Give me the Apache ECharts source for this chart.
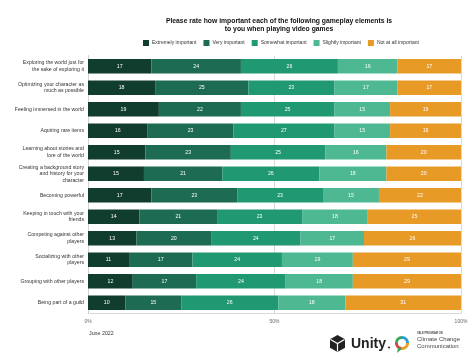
<!DOCTYPE html>
<html><head><meta charset="utf-8">
<script src="https://cdn.jsdelivr.net/npm/echarts@6/dist/echarts.min.js"></script>
<style>html,body{margin:0;padding:0;background:#fff}#c{width:474px;height:362px}</style>
</head><body><div id="c"></div>
<script>
const categories = [
  "Exploring the world just for\nthe sake of exploring it",
  "Optimizing your character as\nmuch as possible",
  "Feeling immersed in the world",
  "Aquiring rare items",
  "Learning about stories and\nlore of the world",
  "Creating a background story\nand history for your\ncharacter",
  "Becoming powerful",
  "Keeping in touch with your\nfriends",
  "Competing against other\nplayers",
  "Socializing with other\nplayers",
  "Grouping with other players",
  "Being part of a guild"
];
const seriesNames = ["Extremely important","Very important","Somewhat important","Slightly important","Not at all important"];
// shares in % (labels show rounded values)
const extremely = [17,18,19,16,15.4,15,17,13.8,13,11,12,10];
const very      = [24,25,22,23,22.9,21,23,20.8,20,17,17,15];
const somewhat  = [26,23,25,27,25.3,26,23,22.8,24,24,24,26];
const slightly  = [16,17,15,15,16.4,18,15,17.6,17,19,18,18];
const notAtAll  = [17,17,19,19,20,20,22,25,26,29,29,31];
const xTicks = ["0%","50%","100%"];
const colors = ["#113d2e","#1c6b52","#209872","#4db892","#e89a26"];
const values = [extremely, very, somewhat, slightly, notAtAll];

const chart = echarts.init(document.getElementById('c'));
const font = "Liberation Sans, Arial, sans-serif";
chart.setOption({
  animation:false,
  color: colors,
  title:{
    text:"Please rate how important each of the following gameplay elements is\nto you when playing video games",
    left:274, top:12, textAlign:'center',
    textStyle:{fontFamily:font,fontSize:6.8,fontWeight:'bold',color:'#111',lineHeight:8}
  },
  legend:{
    data: seriesNames, top:35, left:138,
    itemWidth:6, itemHeight:6, itemGap:7, icon:'rect',
    textStyle:{fontFamily:font,fontSize:5,color:'#333',padding:[0,0,0,-2]}
  },
  grid:{left:88, right:13, top:55.5, bottom:48.5, containLabel:false},
  xAxis:{
    type:'value', min:0, max:100, interval:50,
    axisLabel:{fontFamily:font,fontSize:5,color:'#666',margin:6,formatter:(v)=>xTicks[v/50]},
    splitLine:{show:true,lineStyle:{color:'#d0d0d0',width:0.8}},
    axisLine:{show:true,lineStyle:{color:'#d0d0d0',width:0.8}},
    axisTick:{show:false}
  },
  yAxis:{
    type:'category', data:categories, inverse:true,
    axisLabel:{fontFamily:font,fontSize:5.2,color:'#333',lineHeight:6.5,margin:4},
    axisLine:{show:true,lineStyle:{color:'#d0d0d0',width:0.8}},
    axisTick:{show:false}
  },
  series: values.map((v,i)=>({
    name: seriesNames[i], type:'bar', stack:'total', data:v,
    barWidth:'67%',
    label:{show:true,position:'inside',color:'#fff',fontFamily:font,fontSize:5.2,
      formatter:(p)=>String(Math.round(p.value))},
    emphasis:{disabled:true}
  })),
  graphic:[
    {type:'text',left:89,top:331,style:{text:'June 2022',font:'5.3px '+font,fill:'#333'}},
    // Unity icon (approximate)
    {type:'polygon',shape:{points:[[337.5,335],[345,339.3],[345,347.7],[337.5,352],[330,347.7],[330,339.3]]},style:{fill:'#222'}},
    {type:'polyline',shape:{points:[[330.5,339.6],[337.5,343.6],[344.5,339.6]]},style:{stroke:'#fff',lineWidth:1.2,fill:null}},
    {type:'line',shape:{x1:337.5,y1:343.6,x2:337.5,y2:351.5},style:{stroke:'#fff',lineWidth:1.2}},
    {type:'text',left:351,top:337.5,style:{text:'Unity',font:'bold 14px '+font,fill:'#222'}},
    {type:'circle',shape:{cx:389,cy:347.5,r:1},style:{fill:'#222'}},
    // Yale ring
    {type:'arc',shape:{cx:402,cy:343,r:5.6,startAngle:-Math.PI*0.5,endAngle:0},style:{stroke:'#2a9fd6',lineWidth:3,fill:null}},
    {type:'arc',shape:{cx:402,cy:343,r:5.6,startAngle:0,endAngle:Math.PI*0.55},style:{stroke:'#e8a02a',lineWidth:3,fill:null}},
    {type:'arc',shape:{cx:402,cy:343,r:5.6,startAngle:Math.PI*0.55,endAngle:Math.PI*1.0},style:{stroke:'#d9453a',lineWidth:3,fill:null}},
    {type:'arc',shape:{cx:402,cy:343,r:5.6,startAngle:Math.PI*1.0,endAngle:Math.PI*1.5},style:{stroke:'#3aa655',lineWidth:3,fill:null}},
    {type:'polygon',shape:{points:[[398,347.5],[397,353],[402,348.8]]},style:{fill:'#3aa655'}},
    {type:'text',left:417,top:331.5,style:{text:'YALE PROGRAM ON',font:'bold 2.6px '+font,fill:'#444'}},
    {type:'text',left:417,top:336,style:{text:'Climate Change\nCommunication',font:'6px '+font,fill:'#444',lineHeight:6.6}}
  ]
});
</script></body></html>
